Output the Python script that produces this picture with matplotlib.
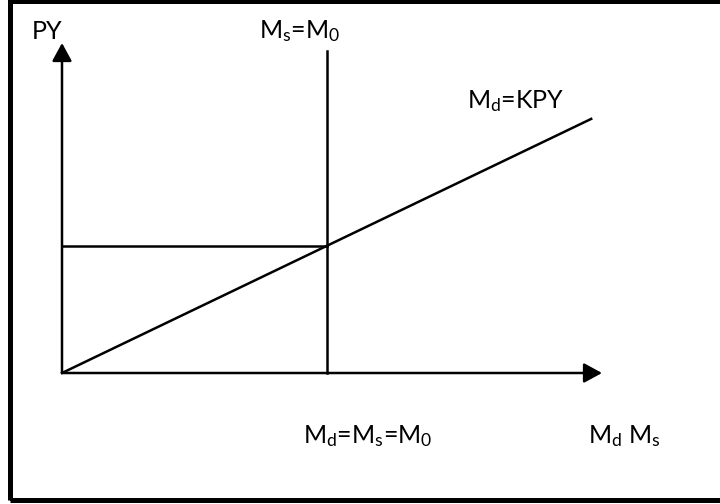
'''貨幣市場の均衡 (Md=KPY, Ms=M0) を描く'''

import matplotlib.pyplot as plt
from matplotlib.patches import Rectangle

### データ (図の単位は任意)
M0 = 4.9          # 貨幣供給量 Ms=M0
PY0 = 3.85        # 均衡での名目所得
md_end = 9.8      # Md=KPY 線の右端
ms_top = 9.76     # Ms=M0 線の上端
x_max = 10.0      # 横軸の矢印の先
y_max = 10.0      # 縦軸の矢印の先
K = M0 / PY0      # Md = K*PY

plt.rcParams['font.family'] = ['Lato', 'DejaVu Sans']
plt.rcParams['mathtext.fontset'] = 'custom'
plt.rcParams['mathtext.rm'] = 'Lato'
plt.rcParams['mathtext.it'] = 'Lato'
plt.rcParams['mathtext.default'] = 'regular'

fig = plt.figure(figsize=(7.2, 5.04), dpi=100)
ax = fig.add_axes([62/720, 131/504, 540/720, 330/504])
ax.set_xlim(0, x_max)
ax.set_ylim(0, y_max)
ax.axis('off')

lw = 1.8
#### 軸 (矢印付き)
arrow = dict(arrowstyle='-|>,head_length=0.55,head_width=0.3', color='black',
             lw=lw, mutation_scale=20, shrinkA=0, shrinkB=0)
ax.annotate('', xy=(x_max, 0), xytext=(0, 0), arrowprops=arrow, annotation_clip=False)
ax.annotate('', xy=(0, y_max), xytext=(0, 0), arrowprops=arrow, annotation_clip=False)

#### 線
ax.plot([M0, M0], [0, ms_top], color='black', lw=lw, clip_on=False)       # Ms=M0
ax.plot([0, M0], [PY0, PY0], color='black', lw=lw, clip_on=False)         # 均衡の PY
ax.plot([0, md_end], [0, md_end / K], color='black', lw=lw, clip_on=False)  # Md=KPY

#### ラベル
fs = 18
ax.text(-0.56, 10.12, 'PY', fontsize=fs, va='baseline')
ax.text(3.65, 10.15, 'M$_s$=M$_0$', fontsize=fs, va='baseline')
ax.text(9.31, 8.03, 'M$_d$=KPY', fontsize=fs, va='baseline', ha='right')
ax.text(4.46, -2.12, 'M$_d$=M$_s$=M$_0$', fontsize=fs, va='baseline')
ax.text(9.74, -2.12, 'M$_d$ M$_s$', fontsize=fs, va='baseline')

#### 外枠 (右辺は図の外)
fig.patches.append(Rectangle((9.5/720, 4.5/504), 1.1, 499/504, transform=fig.transFigure,
                             fill=False, edgecolor='black', lw=3.6))

fig.savefig('out.png', dpi=100)
